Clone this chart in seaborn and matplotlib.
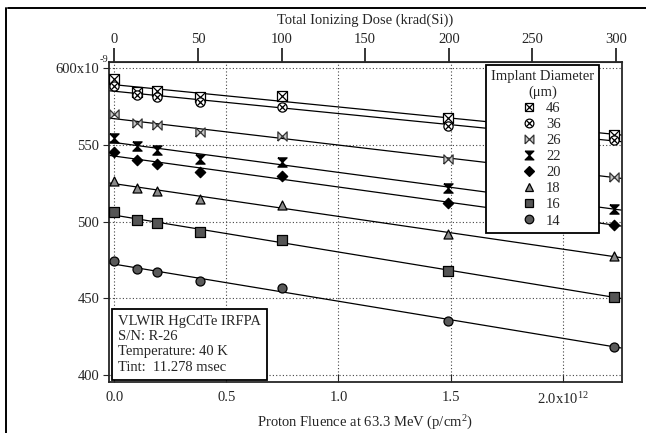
import numpy as np
import matplotlib
matplotlib.use('Agg')
import matplotlib.pyplot as plt
from matplotlib.lines import Line2D
import seaborn as sns

# fluence in units of 1e12 p/cm^2, responsivity-like values in units of 1e-9
fluence = [0.0, 0.10, 0.19, 0.38, 0.75, 1.49, 2.23]
d46 = [593.0, 584.5, 585.5, 581.5, 582.0, 567.5, 556.5]
d36 = [588.5, 582.5, 581.0, 578.0, 574.5, 562.5, 553.5]
d26 = [570.0, 564.0, 563.0, 558.5, 556.0, 541.0, 529.0]
d22 = [554.5, 549.0, 547.0, 541.0, 539.0, 522.0, 508.5]
d20 = [545.5, 540.0, 537.5, 532.5, 530.0, 512.0, 498.0]
d18 = [526.5, 522.0, 520.0, 514.5, 511.0, 492.0, 477.5]
d16 = [506.0, 501.0, 499.0, 493.5, 488.0, 467.5, 451.0]
d14 = [474.0, 469.0, 467.0, 461.0, 456.5, 435.5, 418.5]
diameters = ['46', '36', '26', '22', '20', '18', '16', '14']

x_ticks = [0.0, 0.5, 1.0, 1.5, 2.0]
x_labels = ['0.0', '0.5', '1.0', '1.5', '2.0x10$\\mathregular{^{12}}$']
y_ticks = [400, 450, 500, 550, 600]
y_labels = ['400', '450', '500', '550', '600x10']
dose_ticks = [0, 50, 100, 150, 200, 250, 300]
krad_per_fluence = 134.0  # krad(Si) per 1e12 p/cm^2

info_lines = ['VLWIR HgCdTe IRFPA', 'S/N: R-26', 'Temperature: 40 K', 'Tint:  11.278 msec']

sns.set_style('ticks')
plt.rcParams['font.family'] = ['Liberation Serif', 'DejaVu Serif']
plt.rcParams['font.size'] = 10.5

bowtie = [(-1, -1), (-1, 1), (1, -1), (1, 1), (-1, -1)]
hourglass = [(-1, 1), (1, 1), (-1, -1), (1, -1), (-1, 1)]

# marker layers per series: (marker, size, face, edge)
styles = [
    [('s', 44, 'white', 'black'), ('x', 44, 'black', 'black')],
    [('o', 44, 'white', 'black'), ('x', 21, 'black', 'black')],
    [(bowtie, 44, '#c8c8c8', '#333333')],
    [(hourglass, 44, 'black', 'black')],
    [('D', 28, 'black', 'black')],
    [('^', 42, '#8a8a8a', 'black')],
    [('s', 42, '#555555', 'black')],
    [('o', 42, '#5a5a5a', 'black')],
]
series = [d46, d36, d26, d22, d20, d18, d16, d14]

fig = plt.figure(figsize=(6.46, 4.33), dpi=100)
ax = fig.add_axes([0.1687, 0.1185, 0.7937, 0.739])
ax.set_xlim(-0.024, 2.264)
ax.set_ylim(395.6, 604.3)

handles = []
for vals, layers, lab in zip(series, styles, diameters):
    sns.regplot(x=fluence, y=vals, ax=ax, ci=None, scatter=False, truncate=False,
                line_kws=dict(color='black', lw=0.9, zorder=2))
    hs = []
    for m, s, fc, ec in layers:
        sns.scatterplot(x=fluence, y=vals, ax=ax, marker=m, s=s, color=fc,
                        edgecolor=ec, linewidth=0.9, zorder=3)
        hs.append(Line2D([], [], ls='none', marker=m, markersize=np.sqrt(s) * 0.95,
                         markerfacecolor=fc, markeredgecolor=ec, markeredgewidth=0.9,
                         color=ec))
    handles.append(tuple(hs))

ax.set_xticks(x_ticks)
ax.set_xticklabels(x_labels)
ax.set_yticks(y_ticks)
ax.set_yticklabels(y_labels)
# exponent of the top y tick label, hanging to the right like the original
ax.annotate('-9', xy=(0, 600), xycoords=('axes fraction', 'data'),
            xytext=(-6.5, 6), textcoords='offset points', fontsize=7.5,
            ha='left', va='center')
ax.grid(True, color='#444444', linestyle=(0, (1, 2)), linewidth=0.8)
ax.tick_params(axis='x', direction='in', length=6, pad=7, labelsize=10.5)
ax.tick_params(axis='y', direction='out', length=4, pad=3, labelsize=10.5)
for sp in ax.spines.values():
    sp.set_linewidth(1.3)
    sp.set_visible(True)
ax.set_xlabel('Proton Fluence at 63.3 MeV (p/cm$\\mathregular{^{2}}$)', fontsize=10.5, labelpad=5)
ax.set_ylabel('')

top = ax.secondary_xaxis('top', functions=(lambda f: f * krad_per_fluence,
                                           lambda d: d / krad_per_fluence))
top.set_xticks(dose_ticks)
top.tick_params(direction='out', length=10, width=1.3, pad=1, labelsize=10.5)
top.set_xlabel('Total Ionizing Dose (krad(Si))', fontsize=10.5, labelpad=7)

leg = ax.legend(handles, diameters, title='Implant Diameter\n(\u03bcm)',
                loc='upper right', bbox_to_anchor=(0.9557, 0.99),
                borderaxespad=0, frameon=True, fancybox=False, edgecolor='black',
                framealpha=1, fontsize=10.5, title_fontsize=10.5, handlelength=0.7,
                handletextpad=0.8, labelspacing=0.2, borderpad=0.35,
                alignment='center')
leg.get_title().set_multialignment('center')
leg.get_frame().set_linewidth(1.3)
leg.set_zorder(5)

ax.text(0.0176, 0.025, '\n'.join(info_lines), transform=ax.transAxes,
        ha='left', va='bottom', fontsize=10.5, linespacing=1.22, zorder=6,
        bbox=dict(boxstyle='square,pad=0.4', facecolor='white',
                  edgecolor='black', linewidth=1.3))

# outer page border lines
fig.add_artist(Line2D([0.012, 1.0], [0.9815, 0.9815], color='black', lw=1.4))
fig.add_artist(Line2D([0.009, 0.009], [0.0, 0.9815], color='black', lw=1.4))

fig.savefig('out.png', dpi=100)
